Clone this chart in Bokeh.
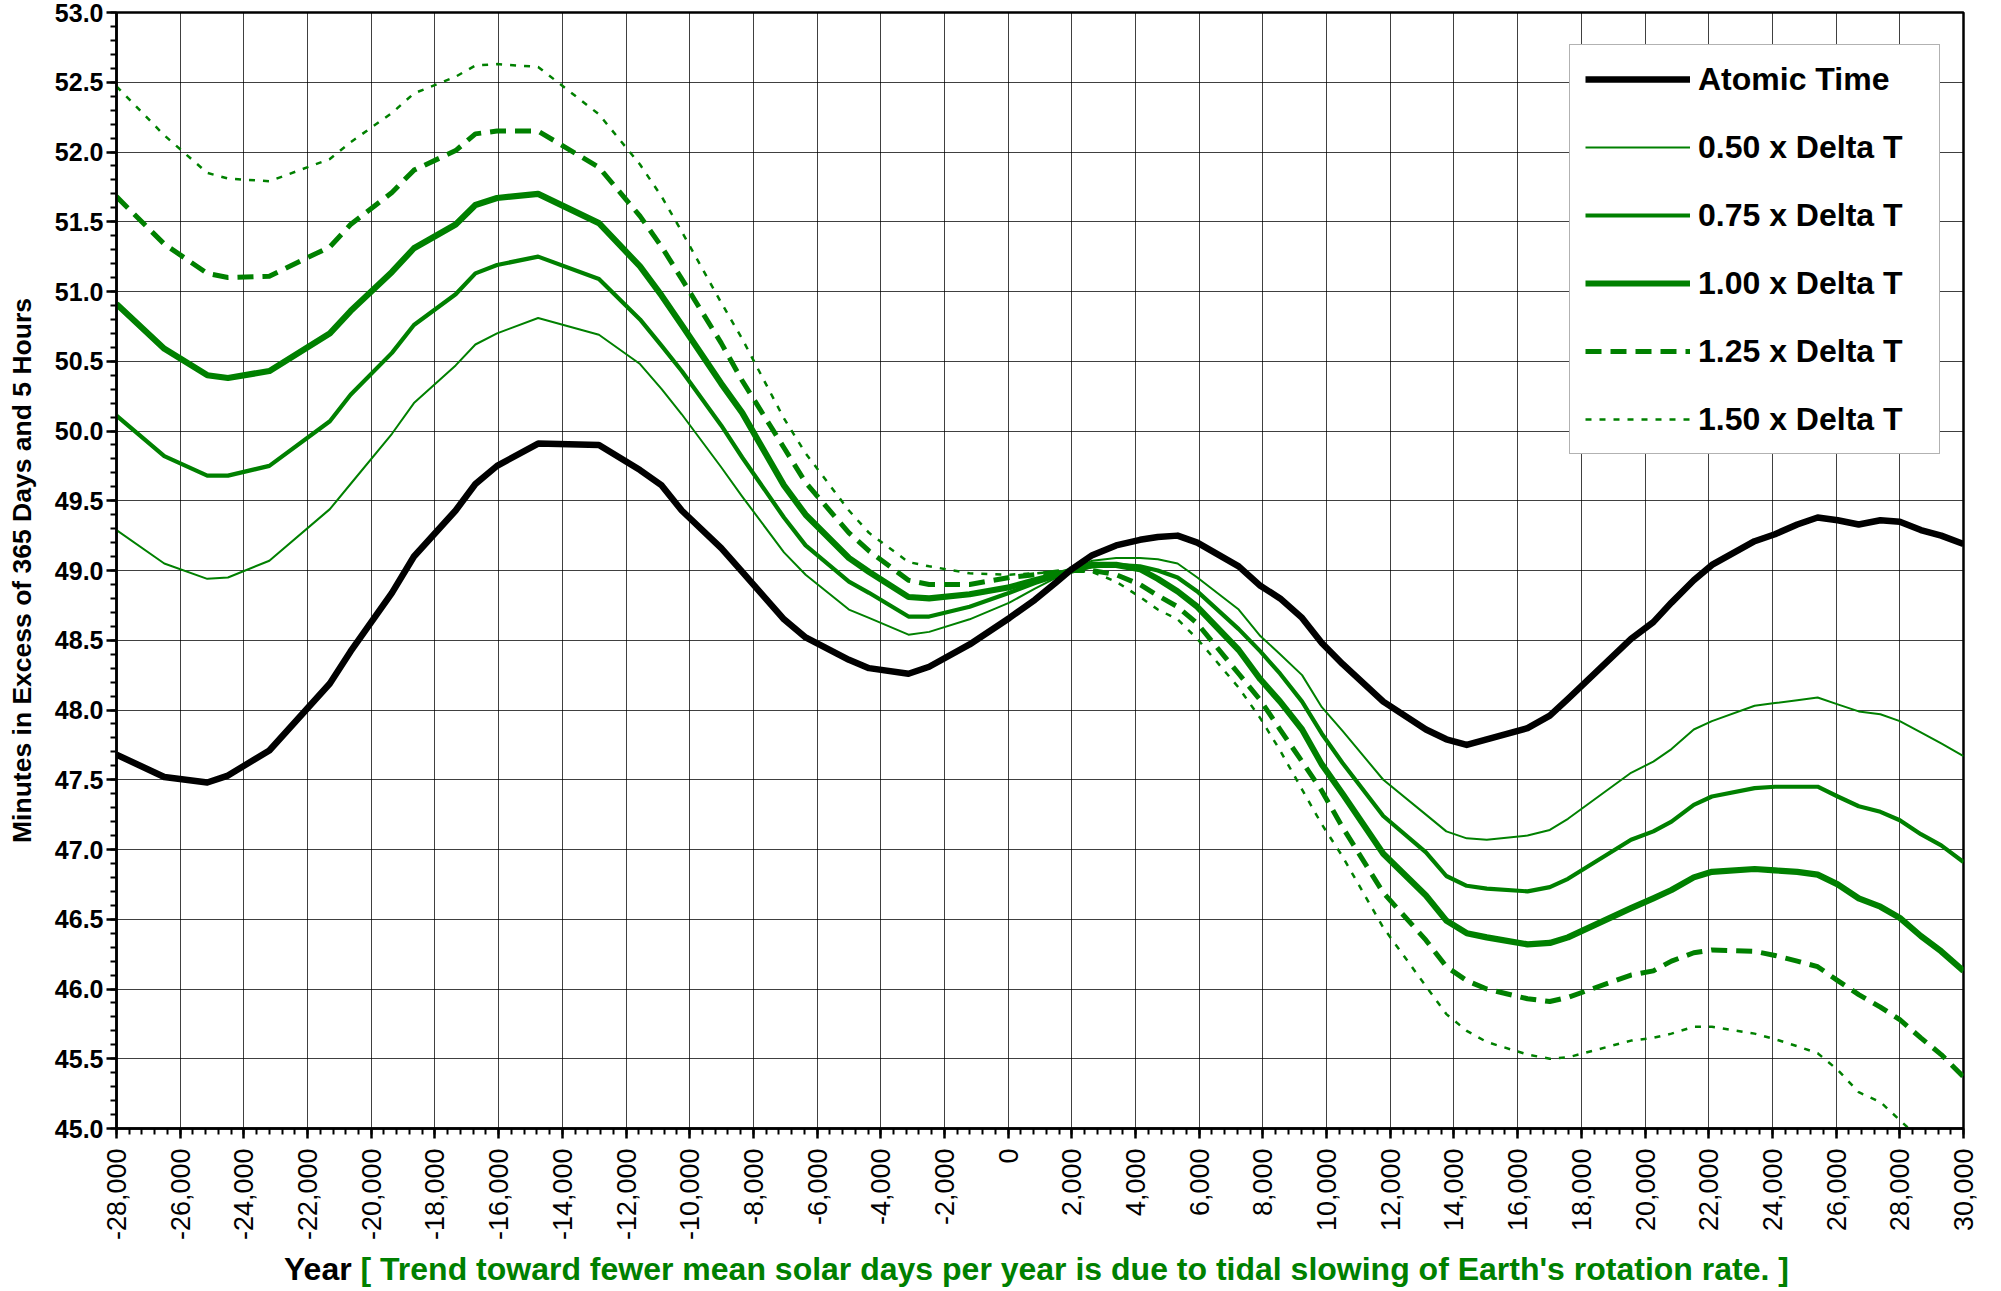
from bokeh.plotting import figure
from bokeh.layouts import column
from bokeh.models import (Range1d, SingleIntervalTicker, NumeralTickFormatter, Legend, LegendItem,
                          Div, ColumnDataSource)
from bokeh.embed import file_html
from bokeh.resources import INLINE
import math

YEARS = [-28000, -26500, -25150, -24500, -23200, -21300, -20650, -19350, -18660, -17350,
         -16730, -16050, -14760, -12850, -11560, -10880, -10250, -9010, -8350, -7040,
         -6360, -5000, -4370, -3130, -2480, -1210, 40, 840, 1530, 2000,
         2640, 3390, 4140, 4700, 5320, 5940, 7240, 7920, 8540, 9230,
         9850, 10500, 11780, 13120, 13760, 14400, 15030, 16310, 17010, 17580,
         19560, 20260, 20830, 21530, 22100, 23440, 24080, 24780, 25420, 26050,
         26710, 27390, 28000, 28660, 29300, 30000]

ATOMIC = [47.68, 47.52, 47.48, 47.53, 47.71, 48.19, 48.42, 48.84, 49.10, 49.43,
          49.62, 49.75, 49.91, 49.90, 49.72, 49.61, 49.43, 49.16, 48.99, 48.65,
          48.52, 48.36, 48.30, 48.26, 48.31, 48.47, 48.66, 48.79, 48.92, 49.01,
          49.11, 49.18, 49.22, 49.24, 49.25, 49.20, 49.03, 48.89, 48.80, 48.66,
          48.48, 48.33, 48.06, 47.86, 47.79, 47.75, 47.79, 47.87, 47.96, 48.08,
          48.51, 48.63, 48.77, 48.93, 49.04, 49.21, 49.26, 49.33, 49.38, 49.36,
          49.33, 49.36, 49.35, 49.29, 49.25, 49.19]

DT050 = [49.29, 49.05, 48.94, 48.95, 49.07, 49.44, 49.62, 49.98, 50.20, 50.47,
         50.62, 50.70, 50.81, 50.69, 50.48, 50.30, 50.12, 49.74, 49.53, 49.13,
         48.97, 48.72, 48.66, 48.54, 48.56, 48.65, 48.77, 48.87, 48.95, 49.00,
         49.07, 49.09, 49.09, 49.08, 49.05, 48.95, 48.72, 48.53, 48.40, 48.25,
         48.02, 47.85, 47.50, 47.25, 47.13, 47.08, 47.07, 47.10, 47.14, 47.22,
         47.55, 47.63, 47.72, 47.86, 47.92, 48.03, 48.05, 48.07, 48.09, 48.04,
         47.99, 47.97, 47.92, 47.84, 47.76, 47.67]

DT075 = [50.11, 49.82, 49.68, 49.68, 49.75, 50.07, 50.26, 50.56, 50.76, 50.98,
         51.13, 51.19, 51.25, 51.09, 50.80, 50.61, 50.43, 50.04, 49.81, 49.38,
         49.18, 48.92, 48.84, 48.67, 48.67, 48.74, 48.84, 48.91, 48.96, 49.00,
         49.03, 49.04, 49.03, 49.00, 48.95, 48.85, 48.58, 48.42, 48.26, 48.06,
         47.83, 47.62, 47.24, 46.98, 46.81, 46.74, 46.72, 46.70, 46.73, 46.79,
         47.07, 47.13, 47.20, 47.32, 47.38, 47.44, 47.45, 47.45, 47.45, 47.38,
         47.31, 47.27, 47.21, 47.11, 47.03, 46.91]

DT100 = [50.91, 50.59, 50.40, 50.38, 50.43, 50.70, 50.86, 51.14, 51.31, 51.48,
         51.62, 51.67, 51.70, 51.49, 51.18, 50.97, 50.76, 50.34, 50.13, 49.61,
         49.40, 49.09, 48.99, 48.81, 48.80, 48.83, 48.88, 48.93, 48.97, 49.00,
         49.04, 49.04, 49.01, 48.94, 48.85, 48.74, 48.43, 48.22, 48.06, 47.86,
         47.61, 47.40, 46.97, 46.67, 46.49, 46.40, 46.37, 46.32, 46.33, 46.37,
         46.58, 46.65, 46.71, 46.80, 46.84, 46.86, 46.85, 46.84, 46.82, 46.75,
         46.65, 46.59, 46.51, 46.38, 46.27, 46.13]

DT125 = [51.68, 51.34, 51.13, 51.10, 51.11, 51.32, 51.48, 51.71, 51.87, 52.01,
         52.13, 52.15, 52.15, 51.89, 51.54, 51.32, 51.09, 50.63, 50.36, 49.88,
         49.63, 49.27, 49.14, 48.93, 48.90, 48.90, 48.95, 48.97, 48.99, 49.00,
         49.00, 48.97, 48.90, 48.82, 48.74, 48.62, 48.26, 48.07, 47.86, 47.63,
         47.42, 47.16, 46.69, 46.35, 46.16, 46.06, 46.00, 45.93, 45.91, 45.94,
         46.10, 46.13, 46.20, 46.26, 46.28, 46.27, 46.24, 46.20, 46.16, 46.06,
         45.96, 45.87, 45.78, 45.65, 45.53, 45.37]

DT150 = [52.47, 52.12, 51.85, 51.81, 51.79, 51.95, 52.07, 52.28, 52.42, 52.54,
         52.62, 52.63, 52.61, 52.27, 51.91, 51.68, 51.43, 50.92, 50.66, 50.09,
         49.84, 49.43, 49.27, 49.06, 49.03, 48.98, 48.97, 48.98, 48.99, 49.00,
         48.99, 48.92, 48.81, 48.72, 48.65, 48.51, 48.16, 47.94, 47.71, 47.43,
         47.18, 46.95, 46.44, 46.02, 45.82, 45.70, 45.62, 45.53, 45.50, 45.51,
         45.63, 45.65, 45.68, 45.73, 45.73, 45.68, 45.64, 45.59, 45.54, 45.42,
         45.26, 45.19, 45.06, 44.92, 44.80, 44.64]

SERIES_LABELS = ["Atomic Time", "0.50 x Delta T", "0.75 x Delta T", "1.00 x Delta T",
                 "1.25 x Delta T", "1.50 x Delta T"]
X_TITLE_1 = "Year"
X_TITLE_2 = "[ Trend toward fewer mean solar days per year is due to tidal slowing of Earth's rotation rate. ]"
Y_TITLE = "Minutes in Excess of 365 Days and 5 Hours"
X_MIN, X_MAX, X_STEP = -28000, 30000, 2000
Y_MIN, Y_MAX, Y_STEP = 45.0, 53.0, 0.5

FONT = "Liberation Sans"
GREEN = "#008000"

p = figure(width=1985, height=1253, output_backend="svg", toolbar_location=None,
           x_range=Range1d(X_MIN, X_MAX), y_range=Range1d(Y_MIN, Y_MAX),
           min_border_left=116, min_border_right=22, min_border_top=12, min_border_bottom=125)
p.background_fill_color = "white"
p.border_fill_color = "white"
p.outline_line_color = "black"
p.outline_line_width = 2.5

xt = SingleIntervalTicker(interval=X_STEP, num_minor_ticks=5)
yt = SingleIntervalTicker(interval=Y_STEP, num_minor_ticks=5)
p.xaxis.ticker = xt
p.yaxis.ticker = yt
p.xgrid.ticker = xt
p.ygrid.ticker = yt
for g in (p.xgrid, p.ygrid):
    g.grid_line_color = "#000000"
    g.grid_line_alpha = 0.75
    g.grid_line_width = 1

p.xaxis.formatter = NumeralTickFormatter(format="0,0")
p.yaxis.formatter = NumeralTickFormatter(format="0.0")
for ax in (p.xaxis, p.yaxis):
    ax.axis_line_color = "black"
    ax.axis_line_width = 2.5
    ax.major_tick_line_color = "black"
    ax.major_tick_line_width = 2.5
    ax.minor_tick_line_color = "black"
    ax.minor_tick_line_width = 2
    ax.major_tick_in = 0
    ax.major_tick_out = 10
    ax.minor_tick_in = 0
    ax.minor_tick_out = 6
    ax.major_label_text_font = FONT
    ax.major_label_text_color = "black"

p.xaxis.major_label_orientation = math.pi / 2
p.xaxis.major_label_text_font_size = "27px"
p.xaxis.major_label_text_font_style = "normal"
p.xaxis.major_label_standoff = 10

p.yaxis.major_label_text_font_size = "25px"
p.yaxis.major_label_text_font_style = "bold"
p.yaxis.major_label_standoff = 3
p.yaxis.axis_label = Y_TITLE
p.yaxis.axis_label_text_font = FONT
p.yaxis.axis_label_text_font_size = "26.5px"
p.yaxis.axis_label_text_font_style = "bold"
p.yaxis.axis_label_text_color = "black"
p.yaxis.axis_label_standoff = 15

src = ColumnDataSource(dict(x=YEARS, a=ATOMIC, d050=DT050, d075=DT075, d100=DT100, d125=DT125, d150=DT150))

r150 = p.line("x", "d150", source=src, line_color=GREEN, line_width=2.5, line_dash="6 8", line_join="round")
r125 = p.line("x", "d125", source=src, line_color=GREEN, line_width=5, line_dash="16 9", line_join="round")
r050 = p.line("x", "d050", source=src, line_color=GREEN, line_width=2, line_join="round")
r075 = p.line("x", "d075", source=src, line_color=GREEN, line_width=4.2, line_join="round")
r100 = p.line("x", "d100", source=src, line_color=GREEN, line_width=6.2, line_join="round")
ra = p.line("x", "a", source=src, line_color="black", line_width=6.5, line_join="round")

legend = Legend(items=[LegendItem(label=lab, renderers=[r]) for lab, r in
                       zip(SERIES_LABELS, [ra, r050, r075, r100, r125, r150])],
                location=(1453, 674))
legend.margin = 0
legend.padding = 15
legend.spacing = 30
legend.glyph_width = 105
legend.glyph_height = 38
legend.label_height = 38
legend.label_width = 226
legend.label_standoff = 8
legend.label_text_font = FONT
legend.label_text_font_size = "32px"
legend.label_text_font_style = "bold"
legend.label_text_color = "black"
legend.border_line_color = "#666666"
legend.border_line_width = 1.5
legend.background_fill_color = "white"
legend.background_fill_alpha = 1.0
p.add_layout(legend, "center")

# x-axis title in two colours, as a text strip under the chart
title_html = ('<span style="color:black">%s</span> <span style="color:%s">%s</span>'
              % (X_TITLE_1, GREEN, X_TITLE_2.replace("'", "&#39;")))
t = Div(text=title_html, width=1985, height=22,
        styles={"font-family": "'Liberation Sans', Arial, sans-serif", "font-size": "32px",
                "font-weight": "bold", "line-height": "22px", "padding-left": "279px",
                "white-space": "nowrap", "box-sizing": "border-box"})

layout = column(p, t, spacing=0)
open("out.html", "w").write(file_html(layout, INLINE))
